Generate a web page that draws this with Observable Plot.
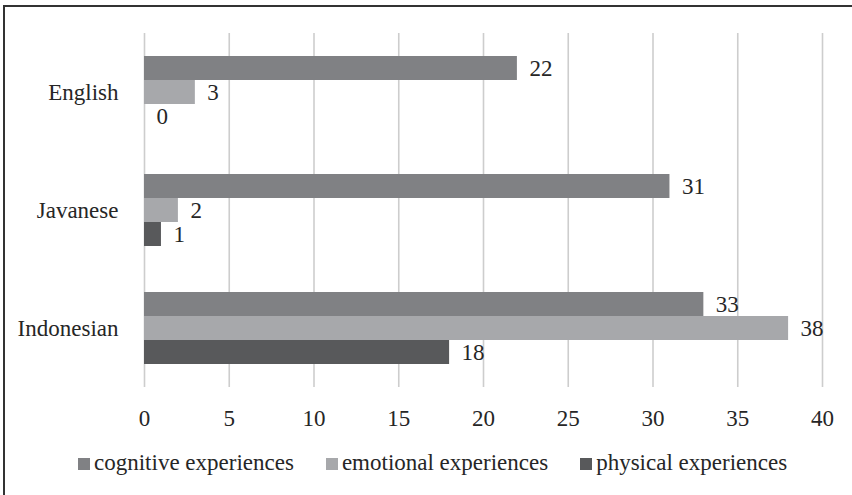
<!DOCTYPE html>
<html>
<head>
<meta charset="utf-8">
<script src="https://cdn.jsdelivr.net/npm/d3@7"></script>
<script src="https://cdn.jsdelivr.net/npm/@observablehq/plot@0.6"></script>
</head>
<body style="margin:0;padding:0;background:#fff;font-family:Tinos, 'Liberation Serif', serif;font-size:23px">
<div id="wrap" style="position:relative;width:852px;height:495px;overflow:hidden;background:#fff;color:#262626;font-family:Tinos, 'Liberation Serif', serif;">
  <div id="chart" style="position:absolute;left:0;top:0;"></div>
  <div style="position:absolute;left:4px;top:5px;width:860px;height:2px;background:#333;"></div>
  <div style="position:absolute;left:3px;top:5px;width:2px;height:500px;background:#333;"></div>
  <div id="legend" style="position:absolute;left:78px;top:450px;display:flex;align-items:center;white-space:nowrap;font-size:23px;font-family:Tinos, 'Liberation Serif', serif;"></div>
</div>
<script>
const categories = ["English", "Javanese", "Indonesian"];
const seriesNames = ["cognitive experiences", "emotional experiences", "physical experiences"];
const cognitive = [22, 31, 33];
const emotional = [3, 2, 38];
const physical = [0, 1, 18];
const xTicks = [0, 5, 10, 15, 20, 25, 30, 35, 40];
const colors = ["#808184", "#a7a8ab", "#58595b"];

const seriesValues = [cognitive, emotional, physical];
const data = [];
categories.forEach((c, i) => {
  seriesNames.forEach((s, j) => {
    data.push({category: c, series: s, value: seriesValues[j][i]});
  });
});

const chart = Plot.plot({
  width: 852,
  height: 430,
  marginLeft: 144,
  marginRight: 30,
  marginTop: 32,
  marginBottom: 42,
  style: {fontFamily: "Tinos, 'Liberation Serif', serif", fontSize: "23px", background: "transparent"},
  x: {domain: [0, 40], ticks: xTicks},
  y: {domain: seriesNames, paddingInner: 0, paddingOuter: 0.922, axis: null},
  fy: {domain: categories, padding: 0, label: null},
  color: {domain: seriesNames, range: colors},
  marks: [
    Plot.ruleX(xTicks, {stroke: "#cdcdcd", strokeWidth: 1.6}),
    Plot.barX(data, {x: "value", y: "series", fy: "category", fill: "series"}),
    Plot.text(data, {x: "value", y: "series", fy: "category", text: d => String(d.value), textAnchor: "start", dx: 12, fill: "#262626"}),
    Plot.axisX({ticks: xTicks, tickSize: 0, tickPadding: 22, label: null, fill: "#262626"}),
    Plot.axisFy({anchor: "left", tickSize: 0, tickPadding: 26, label: null, fill: "#262626"})
  ]
});
document.getElementById("chart").appendChild(chart);

const legend = document.getElementById("legend");
seriesNames.forEach((s, j) => {
  const item = document.createElement("div");
  item.style.cssText = "display:flex;align-items:center;margin-right:32px;";
  const sw = document.createElement("span");
  sw.style.cssText = "width:12px;height:12px;margin-right:4px;margin-top:2px;background:" + colors[j] + ";";
  const t = document.createElement("span");
  t.textContent = s;
  item.appendChild(sw);
  item.appendChild(t);
  legend.appendChild(item);
});
</script>
</body>
</html>
